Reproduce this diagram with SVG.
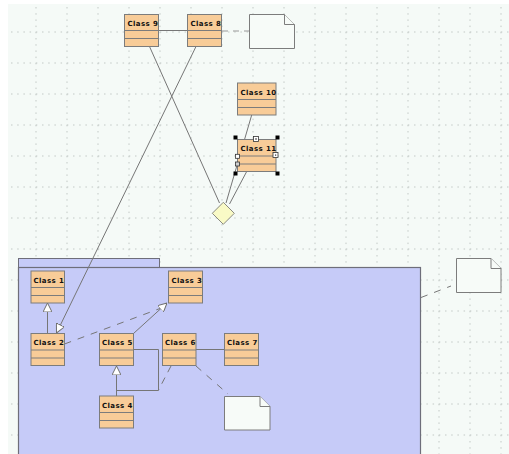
<svg xmlns="http://www.w3.org/2000/svg" width="509" height="454" viewBox="0 0 509 454">
  <style>
    .grid line { stroke: #c3c9c6; stroke-width: 1; stroke-dasharray: 1.5 4.7; }
    .cls rect { fill: #f8cc98; stroke: #7c7c7c; stroke-width: 1; }
    .cls line { stroke: #7c7c7c; stroke-width: 1; }
    .cls text { font-family: "DejaVu Sans", sans-serif; font-weight: bold; font-size: 7px; fill: #111; letter-spacing: 0.4px; }
    .note path { fill: #f7fbf8; stroke: #7c7c7c; stroke-width: 1; }
    .conn line, .conn polyline, .conn path { fill: none; stroke: #767676; stroke-width: 1; }
    .conn .dash { stroke-dasharray: 7 7; }
    .h-black { fill: #000; }
    .h-white { fill: #fff; stroke: #333; stroke-width: 0.8; }
  </style>
  <defs>
    <marker id="gen" viewBox="0 0 10 10" refX="10" refY="5" markerWidth="9" markerHeight="9" markerUnits="userSpaceOnUse" orient="auto">
      <path d="M0,0 L10,5 L0,10 Z" fill="#ffffff" stroke="#6e6e6e" stroke-width="1.1"/>
    </marker>
  </defs>

  <!-- canvas -->
  <rect x="0" y="0" width="509" height="454" fill="#ffffff"/>
  <rect x="8" y="4" width="501" height="450" fill="#f5faf7"/>

  <!-- grid -->
  <g class="grid">
    <line x1="36" y1="7" x2="36" y2="454"/>
    <line x1="67" y1="7" x2="67" y2="454"/>
    <line x1="98" y1="7" x2="98" y2="454"/>
    <line x1="129" y1="7" x2="129" y2="454"/>
    <line x1="160" y1="7" x2="160" y2="454"/>
    <line x1="191" y1="7" x2="191" y2="454"/>
    <line x1="222" y1="7" x2="222" y2="454"/>
    <line x1="253" y1="7" x2="253" y2="454"/>
    <line x1="284" y1="7" x2="284" y2="454"/>
    <line x1="315" y1="7" x2="315" y2="454"/>
    <line x1="346" y1="7" x2="346" y2="454"/>
    <line x1="377" y1="7" x2="377" y2="454"/>
    <line x1="408" y1="7" x2="408" y2="454"/>
    <line x1="439" y1="7" x2="439" y2="454"/>
    <line x1="470" y1="7" x2="470" y2="454"/>
    <line x1="501" y1="7" x2="501" y2="454"/>
    <line x1="11" y1="32" x2="509" y2="32"/>
    <line x1="11" y1="63" x2="509" y2="63"/>
    <line x1="11" y1="94" x2="509" y2="94"/>
    <line x1="11" y1="125" x2="509" y2="125"/>
    <line x1="11" y1="156" x2="509" y2="156"/>
    <line x1="11" y1="187" x2="509" y2="187"/>
    <line x1="11" y1="218" x2="509" y2="218"/>
    <line x1="11" y1="249" x2="509" y2="249"/>
    <line x1="11" y1="280" x2="509" y2="280"/>
    <line x1="11" y1="311" x2="509" y2="311"/>
    <line x1="11" y1="342" x2="509" y2="342"/>
    <line x1="11" y1="373" x2="509" y2="373"/>
    <line x1="11" y1="404" x2="509" y2="404"/>
    <line x1="11" y1="435" x2="509" y2="435"/>
  </g>

  <!-- package -->
  <g id="package">
    <rect x="18.5" y="258.5" width="141" height="9" fill="#c6cbf8" stroke="#6e6e7a" stroke-width="1"/>
    <rect x="18.5" y="267.5" width="402" height="190" fill="#c6cbf8" stroke="#6e6e7a" stroke-width="1.2"/>
  </g>

  <!-- connectors -->
  <g id="connectors" class="conn">
    <line x1="158.5" y1="30.5" x2="187.5" y2="30.5"/>
    <line class="dash" x1="222" y1="31" x2="249" y2="31" style="stroke-dasharray:6 5;stroke:#999"/>
    <line x1="149.5" y1="46.5" x2="219.5" y2="203"/>
    <line x1="196" y1="46.5" x2="56.5" y2="333" marker-end="url(#gen)"/>
    <line x1="251.7" y1="115" x2="226" y2="203"/>
    <line x1="246.7" y1="171.5" x2="229.5" y2="204"/>

    <line x1="47.5" y1="333" x2="47.5" y2="303" marker-end="url(#gen)"/>
    <line class="dash" x1="64.5" y1="344" x2="164" y2="307"/>
    <line x1="133.5" y1="333.5" x2="167" y2="303" marker-end="url(#gen)"/>
    <polyline points="133.7,349.5 158.5,349.5 158.5,390.5 116.5,390.5"/>
    <line x1="116.5" y1="396" x2="116.5" y2="366" marker-end="url(#gen)"/>
    <line class="dash" x1="171" y1="366" x2="158.5" y2="390" style="stroke-dasharray:7 6"/>
    <line x1="195.7" y1="349.5" x2="224.3" y2="349.5"/>
    <line class="dash" x1="196" y1="366" x2="228" y2="394"/>
    <line class="dash" x1="421" y1="297.5" x2="451" y2="286"/>
  </g>

  <!-- decision diamond -->
  <g id="diamond">
    <path d="M223.3,202.3 L234.3,213.3 L223.3,224.3 L212.3,213.3 Z" fill="#f9fac6" stroke="#8a8a80" stroke-width="1"/>
  </g>

  <!-- classes -->
  <g id="class9" class="cls">
    <rect x="124.5" y="14.5" width="34" height="32"/>
    <line x1="124.5" y1="30.5" x2="158.5" y2="30.5"/>
    <line x1="124.5" y1="38.5" x2="158.5" y2="38.5"/>
    <text x="127.5" y="26">Class 9</text>
  </g>
  <g id="class8" class="cls">
    <rect x="187.5" y="14.5" width="34" height="32"/>
    <line x1="187.5" y1="30.5" x2="221.5" y2="30.5"/>
    <line x1="187.5" y1="38.5" x2="221.5" y2="38.5"/>
    <text x="190.5" y="26">Class 8</text>
  </g>
  <g id="class10" class="cls">
    <rect x="237.5" y="83" width="38.5" height="32"/>
    <line x1="237.5" y1="99.5" x2="276" y2="99.5"/>
    <line x1="237.5" y1="107.5" x2="276" y2="107.5"/>
    <text x="240.5" y="94.5">Class 10</text>
  </g>
  <g id="class11" class="cls">
    <rect x="237.5" y="139.5" width="38.5" height="32"/>
    <line x1="237.5" y1="156" x2="276" y2="156"/>
    <line x1="237.5" y1="164" x2="276" y2="164"/>
    <text x="240.5" y="151">Class 11</text>
  </g>
  <!-- selection handles -->
  <g id="selection">
    <rect class="h-black" x="233.5" y="135.5" width="4" height="4"/>
    <rect class="h-black" x="275.5" y="135.5" width="4" height="4"/>
    <rect class="h-black" x="233.5" y="171.5" width="4" height="4"/>
    <rect class="h-black" x="275.5" y="171.5" width="4" height="4"/>
    <rect class="h-white" x="253.5" y="136.5" width="5" height="5"/>
    <rect x="255.3" y="138.3" width="1.4" height="1.4" fill="#333"/>
    <rect class="h-white" x="235.5" y="154.3" width="4" height="4"/>
    <rect x="235.5" y="162" width="4" height="4" fill="#cfcfcf" stroke="#333" stroke-width="0.8"/>
    <rect class="h-white" x="273" y="152.5" width="5" height="5"/>
    <rect x="275" y="154.5" width="1.2" height="1.2" fill="#333"/>
  </g>

  <g id="class1" class="cls">
    <rect x="31" y="271" width="33.5" height="32"/>
    <line x1="31" y1="287.5" x2="64.5" y2="287.5"/>
    <line x1="31" y1="295.5" x2="64.5" y2="295.5"/>
    <text x="33.5" y="282.5">Class 1</text>
  </g>
  <g id="class3" class="cls">
    <rect x="168.5" y="271" width="34" height="32"/>
    <line x1="168.5" y1="287.5" x2="202.5" y2="287.5"/>
    <line x1="168.5" y1="295.5" x2="202.5" y2="295.5"/>
    <text x="171.5" y="282.5">Class 3</text>
  </g>
  <g id="class2" class="cls">
    <rect x="31" y="333.5" width="33.5" height="32"/>
    <line x1="31" y1="350" x2="64.5" y2="350"/>
    <line x1="31" y1="358" x2="64.5" y2="358"/>
    <text x="33.5" y="345">Class 2</text>
  </g>
  <g id="class5" class="cls">
    <rect x="99.5" y="333.5" width="34" height="32"/>
    <line x1="99.5" y1="350" x2="133.5" y2="350"/>
    <line x1="99.5" y1="358" x2="133.5" y2="358"/>
    <text x="102" y="345">Class 5</text>
  </g>
  <g id="class6" class="cls">
    <rect x="162.5" y="333.5" width="33.5" height="32"/>
    <line x1="162.5" y1="350" x2="196" y2="350"/>
    <line x1="162.5" y1="358" x2="196" y2="358"/>
    <text x="165" y="345">Class 6</text>
  </g>
  <g id="class7" class="cls">
    <rect x="224.5" y="333.5" width="34" height="32"/>
    <line x1="224.5" y1="350" x2="258.5" y2="350"/>
    <line x1="224.5" y1="358" x2="258.5" y2="358"/>
    <text x="227" y="345">Class 7</text>
  </g>
  <g id="class4" class="cls">
    <rect x="99.5" y="396" width="34" height="32"/>
    <line x1="99.5" y1="412.5" x2="133.5" y2="412.5"/>
    <line x1="99.5" y1="420.5" x2="133.5" y2="420.5"/>
    <text x="102" y="407.5">Class 4</text>
  </g>

  <!-- notes -->
  <g id="note1" class="note">
    <path d="M249.5,14.5 L284.5,14.5 L294.5,24.5 L294.5,48.5 L249.5,48.5 Z"/>
    <path d="M284.5,14.5 L284.5,24.5 L294.5,24.5" fill="none"/>
  </g>
  <g id="note2" class="note">
    <path d="M456.5,258.5 L491,258.5 L501,268.5 L501,292.5 L456.5,292.5 Z"/>
    <path d="M491,258.5 L491,268.5 L501,268.5" fill="none"/>
  </g>
  <g id="note3" class="note">
    <path d="M224.5,396.5 L260,396.5 L270,406.5 L270,430 L224.5,430 Z"/>
    <path d="M260,396.5 L260,406.5 L270,406.5" fill="none"/>
  </g>
</svg>
